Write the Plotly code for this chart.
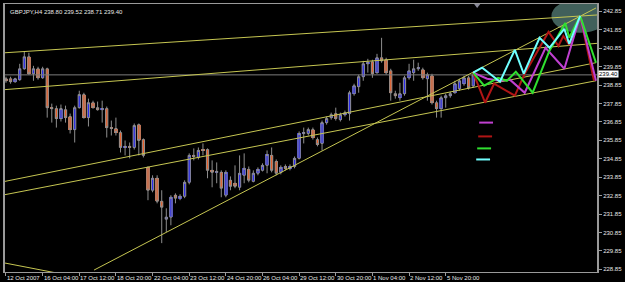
import plotly.graph_objects as go

# ---------------- data ----------------
bar_index = list(range(103))
opens = [239.19, 239.19, 239.03, 239.14, 239.73, 240.38, 239.46, 239.73, 239.24, 239.73,
         237.62, 237.57, 237.03, 237.51, 237.14, 236.43, 237.62, 238.33, 237.08, 237.89,
         237.62, 237.51, 237.57, 236.54, 236.49, 236.27, 235.46, 235.52, 235.46, 236.70,
         235.89, 234.38, 233.14, 233.79, 232.54, 231.57, 231.68, 232.87, 232.71, 232.81,
         233.57, 235.03, 234.92, 235.35, 235.35, 234.22, 234.11, 234.11, 232.87, 233.68,
         233.52, 233.30, 233.95, 234.27, 233.62, 234.06, 234.22, 234.49, 235.03, 234.70,
         234.11, 234.43, 234.33, 234.43, 234.87, 236.22, 236.22, 236.43, 235.89, 235.68,
         236.81, 237.08, 237.30, 236.97, 237.24, 237.30, 238.38, 238.76, 239.30, 240.00,
         240.11, 239.52, 240.33, 240.22, 239.62, 238.38, 238.16, 238.38, 239.24, 239.52,
         239.73, 239.68, 239.19, 239.35, 237.89, 237.57, 238.16, 238.27, 238.43, 238.65,
         238.92, 239.24, 238.80]
highs = [239.30, 239.30, 239.24, 240.00, 240.65, 240.60, 239.89, 239.84, 239.84, 239.79,
         237.84, 237.73, 237.79, 237.73, 237.30, 237.73, 238.54, 238.43, 238.11, 238.00,
         237.95, 238.00, 237.68, 236.92, 237.08, 236.38, 235.84, 235.73, 236.76, 236.76,
         235.95, 234.43, 233.95, 233.95, 233.14, 232.16, 232.87, 232.97, 232.92, 233.68,
         235.14, 235.41, 235.46, 235.68, 235.41, 234.76, 234.65, 234.22, 234.22, 233.89,
         234.49, 235.03, 235.14, 234.43, 234.22, 234.38, 234.60, 235.30, 235.46, 234.81,
         234.49, 234.54, 234.54, 234.97, 236.33, 236.54, 236.54, 236.54, 236.00, 236.92,
         237.14, 237.35, 237.62, 237.35, 237.46, 238.54, 238.92, 239.41, 240.16, 240.27,
         240.22, 240.54, 241.41, 240.33, 239.73, 238.54, 238.97, 239.35, 240.00, 240.22,
         240.06, 239.79, 239.52, 239.46, 238.00, 238.27, 238.38, 238.49, 239.08, 239.19,
         239.35, 239.35, 239.52]
lows = [238.97, 238.92, 238.97, 239.08, 239.68, 239.41, 239.08, 239.14, 239.19, 237.08,
        236.81, 236.54, 236.87, 236.81, 236.22, 235.73, 237.57, 237.03, 236.60, 237.57,
        237.46, 236.81, 236.00, 236.11, 236.11, 235.19, 235.03, 234.87, 235.35, 235.03,
        234.92, 232.60, 233.03, 232.43, 230.27, 230.87, 231.24, 232.43, 232.60, 232.71,
        233.46, 234.76, 234.81, 235.03, 233.79, 233.30, 233.52, 232.76, 232.76, 233.14,
        233.25, 233.14, 233.52, 233.57, 233.57, 233.95, 234.16, 234.06, 234.11, 233.95,
        234.00, 234.22, 234.22, 234.33, 234.81, 235.68, 236.11, 235.89, 235.52, 235.30,
        236.70, 236.97, 236.92, 236.87, 237.14, 236.92, 238.27, 238.43, 239.08, 239.52,
        239.24, 239.46, 240.06, 239.41, 238.00, 238.11, 238.00, 238.27, 239.14, 239.08,
        239.62, 239.14, 238.00, 237.79, 237.08, 237.08, 237.62, 238.16, 238.38, 238.54,
        238.81, 238.60, 238.71]
closes = [239.08, 239.03, 239.19, 239.73, 240.38, 239.46, 239.73, 239.24, 239.73, 237.62,
          237.57, 237.03, 237.57, 237.08, 236.43, 237.62, 238.33, 237.08, 237.89, 237.62,
          237.51, 237.57, 236.54, 236.49, 236.27, 235.46, 235.52, 235.46, 236.65, 235.84,
          235.03, 233.14, 233.79, 232.54, 232.22, 231.68, 232.76, 232.71, 232.81, 233.57,
          235.03, 234.97, 235.30, 235.30, 234.22, 234.11, 234.16, 233.25, 234.11, 233.35,
          233.35, 234.06, 234.33, 233.68, 234.06, 234.27, 234.49, 235.08, 234.22, 234.06,
          234.38, 234.33, 234.43, 234.87, 236.22, 236.27, 236.43, 236.00, 235.62, 236.81,
          237.03, 237.24, 237.03, 237.24, 237.35, 238.43, 238.81, 239.30, 240.00, 240.06,
          239.46, 240.33, 240.16, 239.52, 238.43, 238.27, 238.38, 239.24, 239.62, 239.73,
          239.79, 239.24, 239.41, 237.89, 237.57, 238.16, 238.27, 238.38, 238.92, 239.08,
          239.24, 238.70, 239.40]

x_tick_bars = [0, 8, 16, 24, 32, 40, 48, 56, 64, 72, 80, 88, 96]
x_tick_labels = ["12 Oct 2007", "16 Oct 04:00", "17 Oct 12:00", "18 Oct 20:00",
                 "22 Oct 04:00", "23 Oct 12:00", "24 Oct 20:00", "26 Oct 04:00",
                 "29 Oct 12:00", "30 Oct 20:00", "1 Nov 04:00", "2 Nov 12:00",
                 "5 Nov 20:00"]
y_tick_values = [228.85, 229.85, 230.85, 231.85, 232.85, 233.85, 234.85, 235.85,
                 236.85, 237.85, 238.85, 239.85, 240.85, 241.85, 242.85]
y_tick_labels = ["%.2f" % v for v in y_tick_values]

last_price = 239.40
title_text = "GBPJPY,H4 238.80 239.52 238.71 239.40"

# trend lines: (bar, price) start and end
trend_lines = [
    ((-0.22, 240.60), (129.03, 242.65)),
    ((-0.22, 238.60), (129.03, 241.11)),
    ((-0.22, 233.62), (128.81, 240.06)),
    ((-0.86, 232.87), (128.81, 239.08)),
    ((19.23, 228.81), (128.81, 243.03)),
    ((-0.22, 229.19), (12.10, 228.60)),
]

# projected patterns
red_bars = [102.0, 104.60, 106.55, 111.09, 113.25, 118.44, 120.60, 121.68, 122.97, 125.35, 128.38]
red_prices = [239.52, 237.89, 238.92, 238.27, 239.46, 241.73, 240.97, 241.51, 241.03, 242.60, 239.08]
magenta_bars = [102.0, 105.04, 107.85, 110.01, 113.25, 117.79, 121.90, 125.35, 128.81]
magenta_prices = [239.52, 239.19, 239.08, 239.14, 238.43, 240.87, 239.73, 242.60, 239.08]
green_bars = [102.0, 104.39, 107.42, 109.36, 111.31, 114.98, 118.65, 120.81, 122.11, 122.97, 125.35, 128.81]
green_prices = [239.52, 238.81, 239.24, 239.08, 239.57, 238.43, 240.71, 241.62, 242.22, 241.41, 242.60, 240.06]
cyan_bars = [102.0, 103.96, 107.85, 111.09, 113.03, 116.49, 118.65, 121.90, 122.97, 125.35]
cyan_prices = [239.52, 239.79, 239.03, 240.76, 239.46, 241.41, 240.87, 241.89, 241.08, 242.60]

# small legend dashes (colour, bar start, bar end, price)
legend_dashes = [
    ("#c040d0", 103.31, 106.33, 236.81),
    ("#b01515", 103.09, 106.12, 236.06),
    ("#30e030", 102.87, 105.90, 235.41),
    ("#70ffff", 102.66, 105.68, 234.81),
]

# target zone ellipse (bar range, price range)
zone_bars = (119.08, 131.6)
zone_prices = (241.68, 243.51)

shift_marker = (102.87, 243.19)

# ---------------- styles ----------------
BULL = "#2a2ae8"
BEAR = "#e6602c"
WICK = "#8e8e8e"
YELLOW = "#c6c652"
AXIS = "#9a9a9a"
TXT = "#e8e8e8"
FONT = "Liberation Sans"

fig = go.Figure()

fig.add_shape(type="circle", xref="x", yref="y",
              x0=zone_bars[0], x1=zone_bars[1], y0=zone_prices[0], y1=zone_prices[1],
              fillcolor="#41605b", line=dict(width=0), layer="below")

# price line
fig.add_trace(go.Scatter(x=[-1, 140], y=[last_price, last_price], mode="lines",
                         line=dict(color="#7c7c7c", width=1), hoverinfo="skip"))

for (a, b) in trend_lines:
    fig.add_trace(go.Scatter(x=[a[0], b[0]], y=[a[1], b[1]], mode="lines",
                             line=dict(color=YELLOW, width=1), hoverinfo="skip"))

fig.add_trace(go.Candlestick(
    x=bar_index, open=opens, high=highs, low=lows, close=closes,
    increasing=dict(line=dict(color=WICK, width=1), fillcolor=BULL),
    decreasing=dict(line=dict(color=WICK, width=1), fillcolor=BEAR),
    whiskerwidth=0))

body_base = [min(o, c) for o, c in zip(opens, closes)]
body_h = [max(abs(c - o), 0.035) for o, c in zip(opens, closes)]
body_col = [BULL if c >= o else BEAR for o, c in zip(opens, closes)]
fig.add_trace(go.Bar(x=bar_index, y=body_h, base=body_base, width=0.74,
                     marker=dict(color=body_col, line=dict(width=0)), hoverinfo="skip"))

for bx, py, col in [(red_bars, red_prices, "#b01515"),
                    (magenta_bars, magenta_prices, "#c040d0"),
                    (green_bars, green_prices, "#30e030"),
                    (cyan_bars, cyan_prices, "#70ffff")]:
    fig.add_trace(go.Scatter(x=bx, y=py, mode="lines",
                             line=dict(color=col, width=2), hoverinfo="skip"))

for col, b0, b1, p in legend_dashes:
    fig.add_trace(go.Scatter(x=[b0, b1], y=[p, p], mode="lines",
                             line=dict(color=col, width=2), hoverinfo="skip"))

fig.add_trace(go.Scatter(x=[shift_marker[0]], y=[shift_marker[1]], mode="markers",
                         marker=dict(symbol="triangle-down", size=6, color="#8a8a9a"),
                         cliponaxis=False, hoverinfo="skip"))

for xb, lab in zip(x_tick_bars, x_tick_labels):
    fig.add_annotation(x=xb, xref="x", y=0, yref="paper", text=lab, showarrow=False,
                       xanchor="left", yanchor="top", xshift=-1, yshift=-1,
                       font=dict(family=FONT, size=6, color=TXT))

fig.add_annotation(x=1, xref="paper", y=last_price, yref="y", text="239.40",
                   showarrow=False, xanchor="left", yanchor="middle", xshift=1, yshift=1,
                   bgcolor="#ffffff", font=dict(family=FONT, size=6, color="#000000"),
                   borderpad=0)

fig.add_annotation(x=0, xref="paper", y=1, yref="paper", text=title_text,
                   showarrow=False, xanchor="left", yanchor="top", xshift=3, yshift=-3,
                   font=dict(family=FONT, size=6, color=TXT))

fig.update_layout(
    width=625, height=282,
    margin=dict(l=3, r=24, t=3, b=10),
    paper_bgcolor="#000000", plot_bgcolor="#000000",
    showlegend=False,
    bargap=0,
    xaxis=dict(range=[-0.216, 129.03], showgrid=False, zeroline=False,
               rangeslider=dict(visible=False),
               showline=True, linecolor=AXIS, linewidth=1, mirror=True,
               tickmode="array", tickvals=x_tick_bars, ticks="outside",
               ticklen=3, tickcolor=AXIS, showticklabels=False),
    yaxis=dict(range=[228.704, 243.245], side="right", showgrid=False, zeroline=False,
               showline=True, linecolor=AXIS, linewidth=2, mirror=True,
               tickmode="array", tickvals=y_tick_values, ticktext=y_tick_labels,
               ticks="outside", ticklen=3, tickcolor=AXIS,
               tickfont=dict(family=FONT, size=6, color=TXT)),
)

fig.write_html("out.html")
